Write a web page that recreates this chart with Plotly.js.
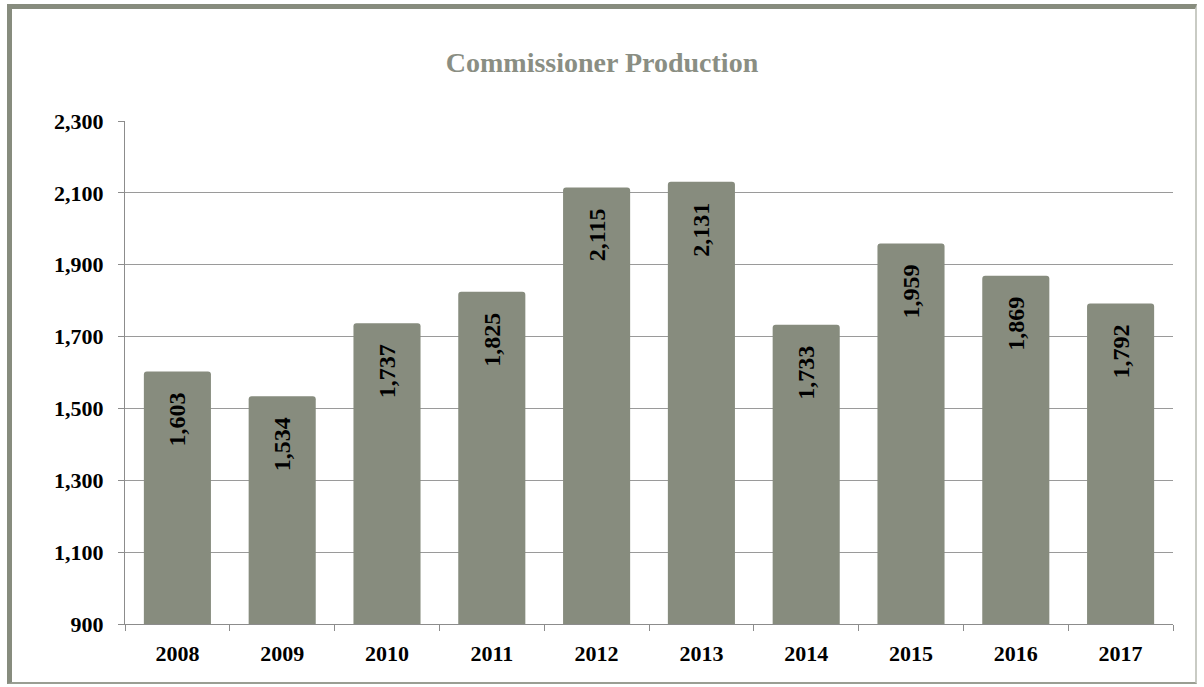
<!DOCTYPE html>
<html>
<head>
<meta charset="utf-8">
<script src="https://cdn.plot.ly/plotly-3.0.1.min.js"></script>
<style>
  html, body { margin: 0; padding: 0; background: #fff; }
  #wrap { position: relative; width: 1204px; height: 687px; }
  #chart { position: absolute; left: 0; top: 0; width: 1204px; height: 687px; }
  #frame { position: absolute; left: 7px; top: 4px; width: 1190px; height: 680px;
           border-left: 5px solid #878c7e; border-top: 5px solid #878c7e;
           border-right: 2px solid #c9cbc4; border-bottom: 2px solid #9a9e93;
           box-sizing: border-box; pointer-events: none; }
</style>
</head>
<body>
<div id="wrap">
  <div id="chart"></div>
  <div id="frame"></div>
</div>
<script>
const years = ["2008","2009","2010","2011","2012","2013","2014","2015","2016","2017"];
const production = [1603, 1534, 1737, 1825, 2115, 2131, 1733, 1959, 1869, 1792];
const yTicks = [900, 1100, 1300, 1500, 1700, 1900, 2100, 2300];
const yTickLabels = ["900","1,100","1,300","1,500","1,700","1,900","2,100","2,300"];

const serif = "Liberation Serif, Times New Roman, serif";
const pad = "\u00a0\u00a0\u00a0";

Plotly.newPlot("chart", [{
  type: "bar",
  x: years,
  y: production,
  marker: { color: "#878c7e", cornerradius: 3 },
  text: production.map(v => v.toLocaleString("en-US") + pad),
  textposition: "inside",
  insidetextanchor: "end",
  textangle: -90,
  textfont: { family: serif, size: 24, color: "#000", weight: "bold" },
  hoverinfo: "x+y"
}], {
  width: 1204, height: 687,
  paper_bgcolor: "#ffffff", plot_bgcolor: "#ffffff",
  margin: { l: 125, r: 31, t: 121, b: 63 },
  bargap: 0.36,
  showlegend: false,
  title: {
    text: "<b>Commissioner Production</b>",
    x: 0.5, xanchor: "center", y: 0.91, yanchor: "middle",
    font: { family: "Liberation Serif, Georgia, serif", size: 28, color: "#8a8e83" }
  },
  xaxis: {
    type: "category",
    showline: true, linecolor: "#8c8c8c", linewidth: 1,
    ticks: "outside", ticklen: 6, tickcolor: "#8c8c8c",
    tickson: "boundaries",
    ticklabelstandoff: 10,
    tickfont: { family: serif, size: 22, color: "#000", weight: "bold" },
    showgrid: false
  },
  yaxis: {
    range: [900, 2300],
    tickvals: yTicks, ticktext: yTickLabels,
    showline: true, linecolor: "#8c8c8c", linewidth: 1,
    ticks: "outside", ticklen: 6, tickcolor: "#8c8c8c",
    ticklabelstandoff: 10,
    showgrid: true, gridcolor: "#9a9a9a", gridwidth: 1,
    zeroline: false,
    tickfont: { family: serif, size: 22, color: "#000", weight: "bold" }
  }
}, { displayModeBar: false, staticPlot: true });
</script>
</body>
</html>
